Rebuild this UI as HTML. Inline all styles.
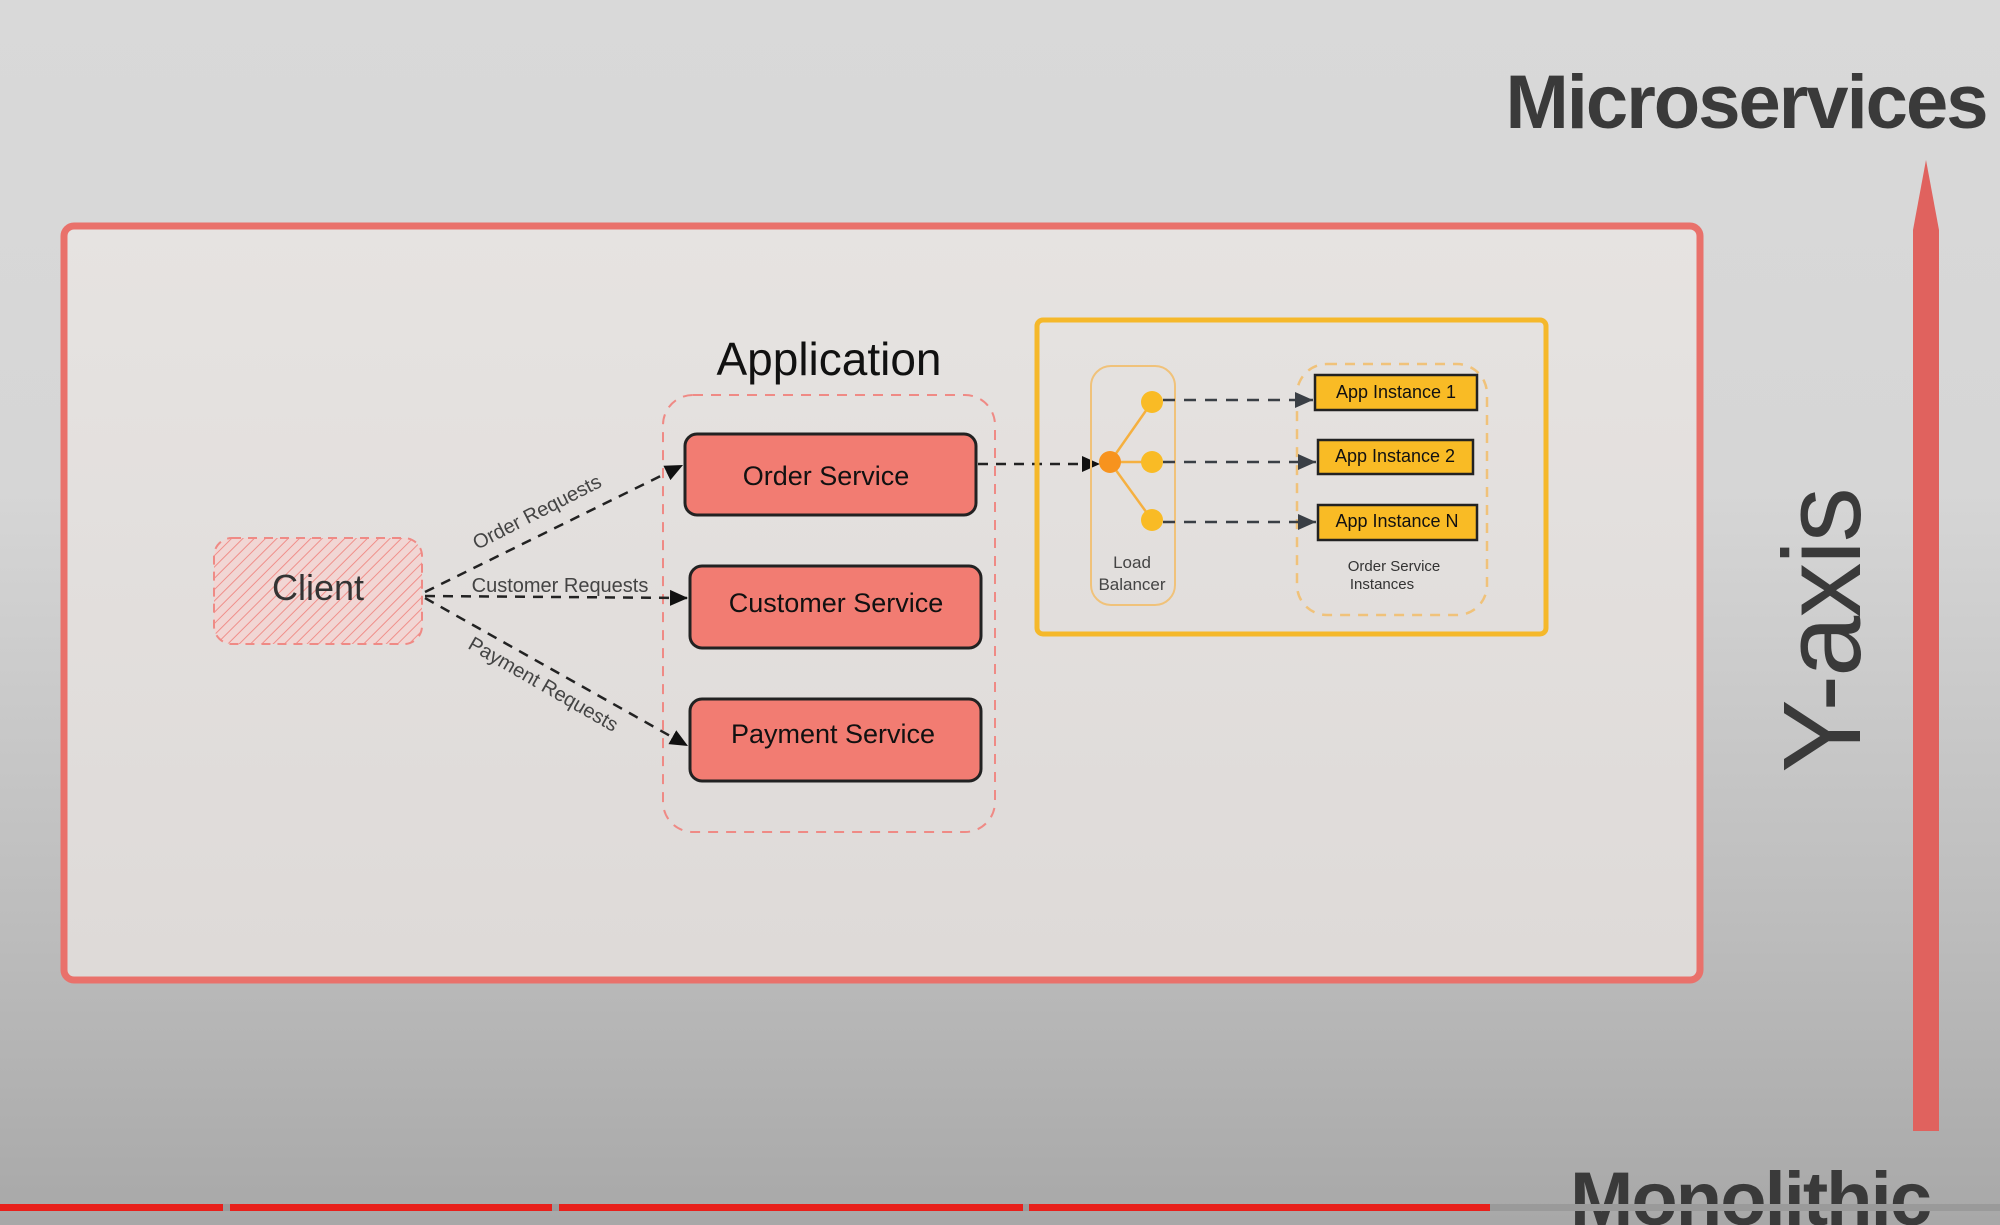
<!DOCTYPE html>
<html><head><meta charset="utf-8"><style>
html,body{margin:0;padding:0;width:2000px;height:1225px;overflow:hidden}
body{background:linear-gradient(180deg,#d9d9d9 0%,#d6d6d6 40%,#bdbdbd 75%,#a8a8a8 100%);font-family:"Liberation Sans",sans-serif}
svg{position:absolute;left:0;top:0}
</style></head><body>
<svg width="2000" height="1225" viewBox="0 0 2000 1225">
<defs>
<pattern id="hatch" width="8" height="8" patternUnits="userSpaceOnUse" patternTransform="rotate(45)">
<rect width="8" height="8" fill="#f1d6d4"/><line x1="0" y1="0" x2="0" y2="8" stroke="#f08f8a" stroke-width="2"/></pattern>
<marker id="ah" markerWidth="10" markerHeight="10" refX="9" refY="5" orient="auto" markerUnits="userSpaceOnUse"><path d="M0,0 L10,5 L0,10z" fill="#111"/></marker>
<marker id="ah2" markerWidth="20" markerHeight="20" refX="18" refY="10" orient="auto" markerUnits="userSpaceOnUse"><path d="M0,2 L18,10 L0,18z" fill="#111"/></marker>
<marker id="ag" markerWidth="20" markerHeight="20" refX="18" refY="10" orient="auto" markerUnits="userSpaceOnUse"><path d="M0,2 L18,10 L0,18z" fill="#3a3f45"/></marker>
<linearGradient id="bx" x1="0" y1="0" x2="0" y2="1"><stop offset="0" stop-color="#e6e3e1"/><stop offset="1" stop-color="#dedad8"/></linearGradient>
</defs>
<text x="1746" y="128" font-size="76" font-weight="bold" fill="#3a3a3a" text-anchor="middle" letter-spacing="-2">Microservices</text>
<rect x="64" y="226" width="1636" height="754" rx="10" fill="url(#bx)" stroke="#e9716b" stroke-width="7"/>
<path d="M1913,1131 L1913,230 L1926,160 L1939,230 L1939,1131z" fill="#e0625e"/>
<text transform="translate(1860,631) rotate(-90)" font-size="110" fill="#3a3a3a" text-anchor="middle" letter-spacing="-2">Y-axis</text>
<text x="1750" y="1225" font-size="76" font-weight="bold" fill="#3a3a3a" text-anchor="middle" letter-spacing="-2">Monolithic</text>
<rect x="0" y="1204" width="2000" height="7" fill="#9a9a9a"/>
<rect x="0" y="1204" width="223" height="7" fill="#e8201b"/>
<rect x="230" y="1204" width="322" height="7" fill="#e8201b"/>
<rect x="559" y="1204" width="464" height="7" fill="#e8201b"/>
<rect x="1029" y="1204" width="461" height="7" fill="#e8201b"/>
<!-- client -->
<rect x="214" y="538" width="208" height="106" rx="18" fill="url(#hatch)" stroke="#ef8a85" stroke-width="2" stroke-dasharray="9 7"/>
<text x="318" y="600" font-size="36" fill="#333" text-anchor="middle">Client</text>
<text x="829" y="375" font-size="46" fill="#111" text-anchor="middle">Application</text>
<rect x="663" y="395" width="332" height="437" rx="30" fill="none" stroke="#ef8a85" stroke-width="2" stroke-dasharray="10 8"/>
<g stroke="#222" stroke-width="3">
<rect x="685" y="434" width="291" height="81" rx="12" fill="#f27c72"/>
<rect x="690" y="566" width="291" height="82" rx="12" fill="#f27c72"/>
<rect x="690" y="699" width="291" height="82" rx="12" fill="#f27c72"/>
</g>
<g font-size="27" fill="#111" text-anchor="middle">
<text x="826" y="485">Order Service</text>
<text x="836" y="612">Customer Service</text>
<text x="833" y="743">Payment Service</text>
</g>
<g stroke="#222" stroke-width="2.5" stroke-dasharray="10 8" fill="none">
<line x1="425" y1="592" x2="683" y2="465" marker-end="url(#ah2)"/>
<line x1="425" y1="596" x2="688" y2="598" marker-end="url(#ah2)"/>
<line x1="425" y1="598" x2="688" y2="746" marker-end="url(#ah2)"/>
<line x1="978" y1="464" x2="1100" y2="464" marker-end="url(#ah2)"/>
</g>
<g font-size="20" fill="#444" text-anchor="middle">
<text transform="translate(540,518) rotate(-27)">Order Requests</text>
<text x="560" y="592">Customer Requests</text>
<text transform="translate(540,690) rotate(30)">Payment Requests</text>
</g>
<!-- yellow box -->
<rect x="1037" y="320" width="509" height="314" rx="6" fill="none" stroke="#f5b82a" stroke-width="5"/>
<rect x="1091" y="366" width="84" height="239" rx="20" fill="none" stroke="#f0c27a" stroke-width="2"/>
<g stroke="#f5b040" stroke-width="2.5">
<line x1="1110" y1="462" x2="1152" y2="402"/><line x1="1110" y1="462" x2="1152" y2="462"/><line x1="1110" y1="462" x2="1152" y2="520"/>
</g>
<circle cx="1110" cy="462" r="11" fill="#f7931e"/>
<circle cx="1152" cy="402" r="11" fill="#f9bb25"/>
<circle cx="1152" cy="462" r="11" fill="#f9bb25"/>
<circle cx="1152" cy="520" r="11" fill="#f9bb25"/>
<text x="1132" y="568" font-size="17" fill="#444" text-anchor="middle">Load</text>
<text x="1132" y="590" font-size="17" fill="#444" text-anchor="middle">Balancer</text>
<rect x="1297" y="364" width="190" height="251" rx="30" fill="none" stroke="#f0c27a" stroke-width="2.5" stroke-dasharray="10 8"/>
<g stroke="#3a3f45" stroke-width="2.5" stroke-dasharray="12 9" fill="none">
<line x1="1163" y1="400" x2="1313" y2="400" marker-end="url(#ag)"/>
<line x1="1163" y1="462" x2="1316" y2="462" marker-end="url(#ag)"/>
<line x1="1163" y1="522" x2="1316" y2="522" marker-end="url(#ag)"/>
</g>
<g stroke="#222" stroke-width="2.5" fill="#f9bb25">
<rect x="1315" y="375" width="162" height="35"/>
<rect x="1318" y="440" width="155" height="34"/>
<rect x="1318" y="505" width="159" height="35"/>
</g>
<g font-size="18" fill="#111" text-anchor="middle">
<text x="1396" y="398">App Instance 1</text>
<text x="1395" y="462">App Instance 2</text>
<text x="1397" y="527">App Instance N</text>
</g>
<text x="1394" y="571" font-size="15" fill="#333" text-anchor="middle">Order Service</text>
<text x="1382" y="589" font-size="15" fill="#333" text-anchor="middle">Instances</text>
</svg>
</body></html>
